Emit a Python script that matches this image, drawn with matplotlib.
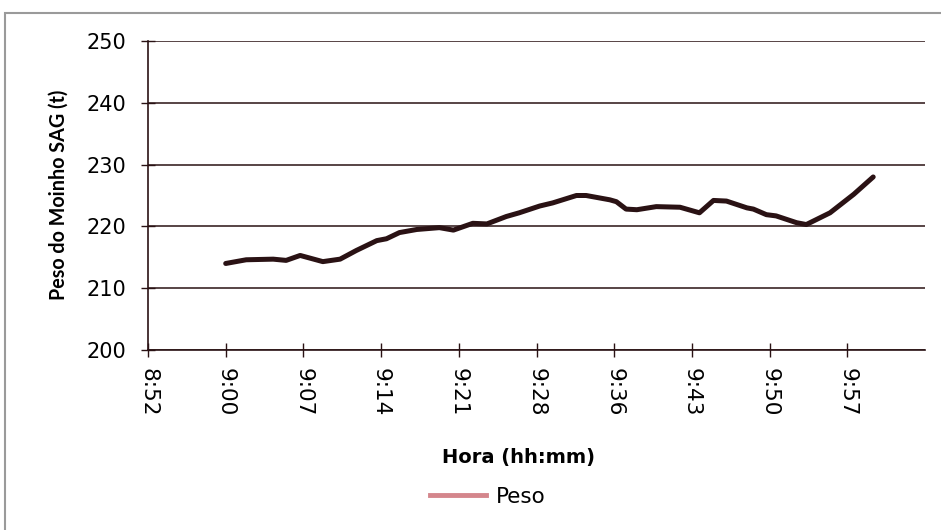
import matplotlib.pyplot as plt
from matplotlib.lines import Line2D
from matplotlib.patches import Rectangle

# minutes after 9:00 and SAG mill weight (t)
minutes = [0.0, 1.9, 4.4, 5.6, 6.9, 9.0, 10.6, 12.1, 14.0, 14.9, 16.1, 17.7, 19.8,
           21.1, 22.9, 24.2, 26.0, 27.2, 29.1, 30.3, 32.5, 33.4, 35.6, 36.2, 37.1,
           38.1, 39.9, 42.1, 43.9, 45.2, 46.4, 48.3, 48.9, 50.1, 51.0, 52.9, 53.8,
           56.0, 58.2, 60.0]
peso = [214.0, 214.6, 214.7, 214.5, 215.3, 214.3, 214.7, 216.1, 217.7, 218.0, 219.0,
        219.5, 219.8, 219.4, 220.5, 220.4, 221.6, 222.2, 223.3, 223.8, 225.0, 225.0,
        224.3, 224.0, 222.8, 222.7, 223.2, 223.1, 222.2, 224.2, 224.1, 223.0, 222.8,
        221.9, 221.7, 220.6, 220.3, 222.2, 225.2, 228.0]

# x axis as in the spreadsheet: 0.37 to 0.42 days, step 0.005 days
x_min, x_max, x_step = 0.37 * 1440, 0.42 * 1440, 0.005 * 1440
tick_pos = [x_min + i * x_step for i in range(10)]
tick_labels = [f"{int(t // 60)}:{int(t % 60):02d}" for t in tick_pos]

plt.rcParams['font.family'] = ['DejaVu Sans']
dark = '#2a1214'

fig = plt.figure(figsize=(9.41, 5.30), dpi=100)
fig.patches.append(Rectangle((5 / 941, -0.1), 1.1, 1 - 13 / 530 + 0.1, transform=fig.transFigure,
                             fill=False, edgecolor='#9a9a9a', linewidth=1.5))
ax = fig.add_axes([148 / 941, 1 - 350 / 530, 777 / 941, 309 / 530])

xs = [9 * 60 + m for m in minutes]
ax.plot(xs, peso, color=dark, linewidth=3.6, solid_capstyle='round', solid_joinstyle='round')

ax.set_xlim(x_min, x_max)
ax.set_ylim(200, 250)
ax.set_yticks(range(200, 251, 10))
ax.set_xticks(tick_pos)
ax.set_xticklabels(tick_labels, rotation=270, fontsize=15.5)
ax.tick_params(axis='y', labelsize=15, pad=11)
ax.tick_params(axis='x', pad=8)
ax.tick_params(direction='inout', length=10, width=1, color=dark)
ax.grid(axis='y', color=dark, linewidth=1.1)
ax.set_axisbelow(True)
for s in ['top', 'right']:
    ax.spines[s].set_visible(False)
for s in ['left', 'bottom']:
    ax.spines[s].set_color(dark)
    ax.spines[s].set_linewidth(1.2)

fig.text(59 / 941, 1 - 195 / 530, "Peso do Moinho SAG (t)", rotation=90,
         family=['Lato', 'DejaVu Sans'], fontsize=14.2, fontweight='bold',
         ha='center', va='center')
fig.text(518 / 941, 1 - 458 / 530, "Hora (hh:mm)", fontsize=14, fontweight='bold',
         ha='center', va='center')

handle = Line2D([], [], color='#d4868c', linewidth=3.5)
fig.legend([handle], ["Peso"], loc='center', bbox_to_anchor=(488 / 941, 1 - 497 / 530),
           frameon=False, fontsize=15.5, handlelength=2.6, handletextpad=0.45)

fig.savefig("out.png", dpi=100)
